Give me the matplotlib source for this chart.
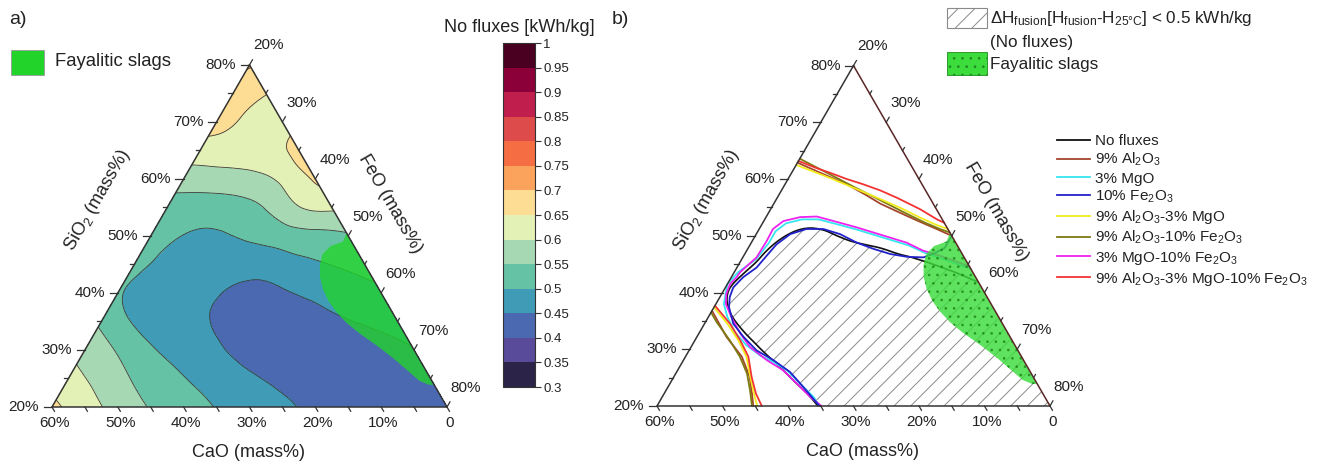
import numpy as np
import matplotlib
matplotlib.use("Agg")
import matplotlib.pyplot as plt
import matplotlib.tri as mtri
from matplotlib.transforms import Affine2D
from matplotlib.patches import Polygon, Rectangle
from matplotlib.lines import Line2D

plt.rcParams['font.family'] = ['Liberation Sans', 'DejaVu Sans']
plt.rcParams['mathtext.fontset'] = 'custom'
plt.rcParams['mathtext.rm'] = 'Liberation Sans'
plt.rcParams['mathtext.it'] = 'Liberation Sans:italic'
plt.rcParams['mathtext.bf'] = 'Liberation Sans:bold'
plt.rcParams['hatch.color'] = '#8a8a8a'
plt.rcParams['hatch.linewidth'] = 0.7
plt.rcParams['text.color'] = '#222222'

# ---------------- data ----------------
# Enthalpy (No fluxes, kWh/kg) at grid nodes: one list per SiO2 level,
# values for CaO = 0, 5, 10, ... (FeO = 100 - SiO2 - CaO)
SIO2_LEVELS = [20, 25, 30, 35, 40, 45, 50, 55, 60, 65, 70, 75, 80]
CAO_GRID = [0, 5, 10, 15, 20, 25, 30, 35, 40, 45, 50, 55, 60]
h_si20 = [0.430, 0.425, 0.425, 0.430, 0.440, 0.459, 0.478, 0.498, 0.524, 0.547, 0.582, 0.620, 0.665]
h_si25 = [0.440, 0.420, 0.415, 0.420, 0.430, 0.447, 0.470, 0.490, 0.515, 0.545, 0.585, 0.615]
h_si30 = [0.448, 0.430, 0.415, 0.410, 0.415, 0.430, 0.457, 0.480, 0.505, 0.545, 0.585]
h_si35 = [0.470, 0.455, 0.440, 0.425, 0.420, 0.438, 0.455, 0.475, 0.496, 0.540]
h_si40 = [0.492, 0.475, 0.460, 0.445, 0.440, 0.452, 0.465, 0.480, 0.505]
h_si45 = [0.517, 0.501, 0.488, 0.470, 0.468, 0.472, 0.488, 0.512]
h_si50 = [0.545, 0.535, 0.525, 0.508, 0.494, 0.499, 0.515]
h_si55 = [0.610, 0.598, 0.553, 0.530, 0.525, 0.530]
h_si60 = [0.656, 0.610, 0.585, 0.578, 0.575]
h_si65 = [0.668, 0.630, 0.625, 0.625]
h_si70 = [0.630, 0.640, 0.668]
h_si75 = [0.652, 0.680]
h_si80 = [0.705]
H_ROWS = [h_si20, h_si25, h_si30, h_si35, h_si40, h_si45, h_si50,
          h_si55, h_si60, h_si65, h_si70, h_si75, h_si80]

LEVELS = [0.3, 0.35, 0.4, 0.45, 0.5, 0.55, 0.6, 0.65, 0.7, 0.75, 0.8, 0.85, 0.9, 0.95, 1.0]
LEVEL_COLORS = ['#2b2448', '#5a4a9a', '#4a69b0', '#3f9bb6', '#66c2a5', '#a6d9b3',
                '#e4f1b6', '#fddd94', '#fba35c', '#f46d43', '#dd4b4b', '#c01e4c',
                '#8c003a', '#4a0020']

# Fayalitic slag region (SiO2, CaO)
fay_sio2 = [50.5, 49.0, 48.2, 46.8, 45.0, 42.8, 40.7, 38.5, 36.8, 34.8, 33.0,
            30.8, 28.4, 26.2, 24.6, 23.9, 23.9]
fay_cao = [0.0, 1.3, 3.6, 5.5, 6.8, 7.9, 8.5, 8.7, 8.5, 7.9, 6.9,
           5.3, 3.8, 2.7, 1.9, 0.8, 0.0]

# 0.5 kWh/kg iso-lines with fluxes (SiO2, CaO)
fe10_sio2 = [50.0, 47.9, 47.0, 46.2, 46.3, 46.8, 47.7, 48.8, 50.3, 51.2, 51.2, 50.3, 48.5,
             46.5, 44.4, 42.7, 40.9, 39.2, 37.4, 34.5, 32.2, 29.8, 28.1, 26.0, 23.4, 20.0]
fe10_cao = [0.0, 2.1, 4.0, 6.2, 8.7, 11.0, 13.1, 15.1, 16.9, 19.0, 21.6, 24.5, 27.5,
            30.0, 32.6, 35.5, 37.9, 39.3, 40.3, 41.1, 40.7, 39.9, 38.2, 36.7, 36.0, 35.2]

mg3fe10_sio2 = [44.6, 45.6, 46.5, 47.4, 48.8, 49.7, 50.6, 51.5, 52.3, 53.4, 53.3, 52.6, 51.2,
                49.1, 46.2, 43.6, 42.7, 41.5, 39.8, 38.0, 35.7, 32.8, 30.4, 28.1, 26.3,
                24.0, 21.6, 20.0]
mg3fe10_cao = [0.0, 1.8, 3.6, 5.7, 7.5, 9.6, 11.7, 13.8, 15.9, 18.9, 21.5, 24.4, 26.7,
               28.7, 31.7, 35.5, 36.5, 38.1, 39.5, 40.5, 40.8, 40.9, 40.6, 39.2, 37.6,
               36.7, 35.8, 34.9]

mg3_sio2 = [44.2, 45.0, 46.0, 47.0, 48.3, 49.2, 50.1, 51.0, 51.8, 52.9, 52.9, 52.2, 50.8,
            48.7, 45.9, 43.6, 41.5, 38.0, 35.7, 33.0, 30.7, 28.9, 27.8, 26.3, 24.0,
            21.6, 20.0]
mg3_cao = [0.0, 1.6, 3.5, 5.6, 7.4, 9.5, 11.6, 13.7, 15.8, 18.9, 21.4, 24.2, 26.5,
           28.6, 31.9, 35.8, 38.5, 40.8, 41.4, 41.6, 41.0, 39.8, 38.4, 37.0, 36.2,
           35.3, 35.2]

al9_upper_sio2 = [62.9, 60.9, 59.1, 57.3, 55.7, 54.3, 52.6, 51.2, 50.0]
al9_upper_cao = [17.1, 14.2, 11.5, 9.6, 8.1, 6.2, 3.8, 1.7, 0.0]
al9_lower_sio2 = [36.8, 32.2, 28.7, 25.1, 22.2, 20.0]
al9_lower_cao = [43.2, 43.3, 42.7, 43.3, 44.4, 45.3]

al9mg3_upper_sio2 = [62.5, 60.2, 58.3, 56.5, 54.8, 53.2, 52.0, 51.2]
al9mg3_upper_cao = [17.5, 13.5, 10.5, 7.7, 5.2, 3.2, 1.5, 0.0]
al9mg3_lower_sio2 = [37.4, 34.5, 31.6, 28.7, 25.1, 22.2, 20.0]
al9mg3_lower_cao = [42.6, 42.0, 41.8, 42.0, 43.2, 44.1, 44.7]

al9fe10_upper_sio2 = [63.6, 61.2, 58.6, 56.3, 54.2, 52.3, 51.2, 50.6]
al9fe10_upper_cao = [16.4, 13.6, 10.6, 7.8, 5.3, 2.9, 1.2, 0.0]
al9fe10_lower_sio2 = [36.5, 34.8, 31.6, 28.7, 25.7, 22.8, 20.0]
al9fe10_lower_cao = [43.5, 43.5, 43.1, 43.0, 43.4, 44.4, 45.5]

all_upper_sio2 = [63.2, 62.0, 61.1, 60.0, 59.1, 58.0, 56.7, 54.7, 52.9, 52.3]
all_upper_cao = [16.8, 14.8, 13.0, 11.0, 9.0, 6.9, 5.0, 2.5, 0.8, 0.0]
all_lower_sio2 = [37.7, 34.5, 31.6, 28.7, 25.1, 22.2, 20.0]
all_lower_cao = [42.3, 41.6, 41.5, 41.7, 43.0, 43.8, 44.0]

# ---------------- figure ----------------
W, H = 1318, 463
fig = plt.figure(figsize=(W / 100, H / 100), dpi=100)

# ternary mapping: (CaO, SiO2) -> cartesian (side length 60 mass%)
TERN = Affine2D.from_values(-1, 0, -0.5, np.sqrt(3) / 2, 70, -10 * np.sqrt(3))


def to_xy(cao, sio2):
    pts = TERN.transform(np.column_stack([np.asarray(cao, float), np.asarray(sio2, float)]))
    return pts[:, 0], pts[:, 1]


def make_ax(px_left, px_right, x0_px, y0_px, scale):
    ax = fig.add_axes([px_left / W, 0, (px_right - px_left) / W, 1])
    ax.set_xlim((px_left - x0_px) / scale, (px_right - x0_px) / scale)
    ax.set_ylim(-y0_px / scale, (H - y0_px) / scale)
    ax.axis('off')
    return ax


TXT = '#222222'
FS_TICK = 11
FS_AX = 13


def draw_frame(ax, right_color, cao_lab, si_lab, fe_lab):
    bx, by = to_xy([60, 0, 0], [20, 20, 80])
    ax.plot([bx[1], bx[0], bx[2]], [by[1], by[0], by[2]], color='#333333', lw=1.1, zorder=6,
            solid_capstyle='round')
    ax.plot([bx[1], bx[2]], [by[1], by[2]], color=right_color, lw=1.1, zorder=6)
    d_bot = np.array([0.5, -np.sqrt(3) / 2])
    d_right = np.array([0.5, np.sqrt(3) / 2])
    for v in range(20, 81, 5):
        major = v % 10 == 0
        # left axis (SiO2)
        x, y = to_xy([80 - v], [v])
        L = 1.25 if major else 0.7
        ax.plot([x[0], x[0] - L], [y[0], y[0]], color='#333333', lw=0.9, zorder=6)
        if major:
            ax.text(x[0] - 2.0, y[0], f'{v}%', ha='right', va='center', fontsize=FS_TICK, color=TXT)
        # right axis (FeO)
        x, y = to_xy([0], [100 - v])
        L = 0.9 if major else 0.55
        ax.plot([x[0], x[0] + L * d_right[0]], [y[0], y[0] + L * d_right[1]],
                color='#333333', lw=0.9, zorder=6)
        if major:
            ax.text(x[0] + 2.9, y[0] + 2.95, f'{v}%', ha='center', va='center',
                    fontsize=FS_TICK, color=TXT)
    for v in range(0, 61, 5):
        x, y = to_xy([v], [20])
        L = 0.75
        ax.plot([x[0], x[0] + L * d_bot[0]], [y[0], y[0] + L * d_bot[1]],
                color='#333333', lw=0.9, zorder=6)
        if v % 10 == 0:
            ax.text(x[0] + 0.35, y[0] - 1.3, '0' if v == 0 else f'{v}%', ha='center', va='top',
                    fontsize=FS_TICK, color=TXT)
    ax.text(*cao_lab, 'CaO (mass%)', ha='center', va='center', fontsize=FS_AX, color=TXT)
    ax.text(*si_lab, 'SiO$_2$ (mass%)', ha='center', va='center', fontsize=FS_AX,
            rotation=60, color=TXT)
    ax.text(*fe_lab, 'FeO (mass%)', ha='center', va='center', fontsize=FS_AX,
            rotation=-60, color=TXT)


# grid nodes -> triangulation
node_ca, node_si, node_h = [], [], []
for s, row in zip(SIO2_LEVELS, H_ROWS):
    for ca, h in zip(CAO_GRID, row):
        node_ca.append(ca)
        node_si.append(s)
        node_h.append(h)
nx, ny = to_xy(node_ca, node_si)
tri = mtri.Triangulation(nx, ny)
tri_r, h_r = mtri.UniformTriRefiner(tri).refine_field(np.array(node_h), subdiv=3)

fx, fy = to_xy(fay_cao, fay_sio2)

# ---------------- panel a ----------------
axa = make_ax(0, 470, 52, 56, 395 / 60)
cs = axa.tricontourf(tri_r, h_r, levels=LEVELS, colors=LEVEL_COLORS, zorder=1)
axa.tricontour(tri_r, h_r, levels=LEVELS, colors='#3a3a3a', linewidths=0.6, zorder=2)
axa.add_patch(Polygon(np.column_stack([fx, fy]), closed=True, facecolor='#22d42a',
                      edgecolor='none', alpha=0.78, zorder=3))
draw_frame(axa, '#333333', (29.8, -6.85), (6.9, 31.4), (51.4, 30.9))

fig.text(9 / W, 1 - 19 / H, 'a)', fontsize=14, va='center', ha='left')
fig.add_artist(Rectangle((11 / W, 1 - 75 / H), 33 / W, 25 / H, transform=fig.transFigure,
                         facecolor='#22d42a', edgecolor='#9a9a9a', lw=0.6))
fig.text(55 / W, 1 - 62 / H, 'Fayalitic slags', fontsize=13.3, va='center', ha='left')

# colorbar
cax = fig.add_axes([503 / W, (H - 387) / H, 32 / W, 344 / H])
cb = fig.colorbar(cs, cax=cax, ticks=LEVELS)
cb.ax.set_yticklabels([f'{v:g}' for v in LEVELS])
cb.ax.tick_params(labelsize=9.5, length=4, width=0.8, color='#333333', labelcolor=TXT, pad=2)
cb.outline.set_linewidth(0.8)
cb.outline.set_edgecolor('#333333')
fig.text(519.5 / W, 1 - 27 / H, 'No fluxes [kWh/kg]', fontsize=13, ha='center', va='center')

# ---------------- panel b ----------------
axb = make_ax(600, W, 657, 57, 393 / 60)
axb.tricontourf(tri_r, h_r, levels=[0.0, 0.5], colors='none', hatches=['//'], zorder=1)
axb.tricontour(tri_r, h_r, levels=[0.5], colors='#111111', linewidths=1.2, zorder=2)

C_AL9 = '#a5452c'
C_MG3 = '#36e6ef'
C_FE10 = '#2222cc'
C_AL9MG3 = '#f2ec1c'
C_AL9FE10 = '#7d7a12'
C_MG3FE10 = '#ee22ee'
C_ALL = '#f23333'
LW = 1.3


def tline(ax, ca, si, color, z):
    x, y = to_xy(ca, si)
    ax.plot(x, y, color=color, lw=LW, zorder=z, solid_capstyle='round', solid_joinstyle='round')


tline(axb, al9_upper_cao, al9_upper_sio2, C_AL9, 3)
tline(axb, al9_lower_cao, al9_lower_sio2, C_AL9, 3)
tline(axb, mg3_cao, mg3_sio2, C_MG3, 3)
tline(axb, fe10_cao, fe10_sio2, C_FE10, 3.2)
tline(axb, al9mg3_upper_cao, al9mg3_upper_sio2, C_AL9MG3, 3.1)
tline(axb, al9mg3_lower_cao, al9mg3_lower_sio2, C_AL9MG3, 3.1)
tline(axb, al9fe10_upper_cao, al9fe10_upper_sio2, C_AL9FE10, 3.05)
tline(axb, al9fe10_lower_cao, al9fe10_lower_sio2, C_AL9FE10, 3.05)
tline(axb, mg3fe10_cao, mg3fe10_sio2, C_MG3FE10, 3)
tline(axb, all_upper_cao, all_upper_sio2, C_ALL, 3.15)
tline(axb, all_lower_cao, all_lower_sio2, C_ALL, 3.15)

axb.add_patch(Polygon(np.column_stack([fx, fy]), closed=True, facecolor='#3cdc3c',
                      edgecolor='#1e8c1e', lw=0, hatch='..', alpha=0.82, zorder=4))
draw_frame(axb, '#5a2626', (31.3, -6.95), (7.5, 31.4), (51.8, 29.6))

fig.text(612 / W, 1 - 19 / H, 'b)', fontsize=14, va='center', ha='left')
fig.add_artist(Rectangle((947 / W, 1 - 28 / H), 40 / W, 20 / H, transform=fig.transFigure,
                         facecolor='white', edgecolor='#8a8a8a', hatch='//', lw=0.8))
fig.text(990 / W, 1 - 18 / H,
         r'$\Delta$H$_{\mathrm{fusion}}$[H$_{\mathrm{fusion}}$-H$_{\mathrm{25°C}}$] < 0.5 kWh/kg',
         fontsize=12.3, va='center', ha='left')
fig.text(990 / W, 1 - 43 / H, '(No fluxes)', fontsize=12.3, va='center', ha='left')
fig.add_artist(Rectangle((947 / W, 1 - 75 / H), 40 / W, 23 / H, transform=fig.transFigure,
                         facecolor='#3cdc3c', edgecolor='#1e8c1e', hatch='..', lw=0.6))
fig.text(990 / W, 1 - 65 / H, 'Fayalitic slags', fontsize=12.3, va='center', ha='left')

handles = [Line2D([], [], color=c, lw=1.3) for c in
           ['#111111', C_AL9, C_MG3, C_FE10, C_AL9MG3, C_AL9FE10, C_MG3FE10, C_ALL]]
labels = ['No fluxes', '9% Al$_2$O$_3$', '3% MgO', '10% Fe$_2$O$_3$',
          '9% Al$_2$O$_3$-3% MgO', '9% Al$_2$O$_3$-10% Fe$_2$O$_3$',
          '3% MgO-10% Fe$_2$O$_3$', '9% Al$_2$O$_3$-3% MgO-10% Fe$_2$O$_3$']
fig.legend(handles, labels, loc='upper left', bbox_to_anchor=(1057 / W, 1 - 134 / H),
           frameon=False, fontsize=11, handlelength=2.15, handletextpad=0.35,
           labelspacing=0.2, borderpad=0, borderaxespad=0)

fig.savefig('out.png', dpi=100)
